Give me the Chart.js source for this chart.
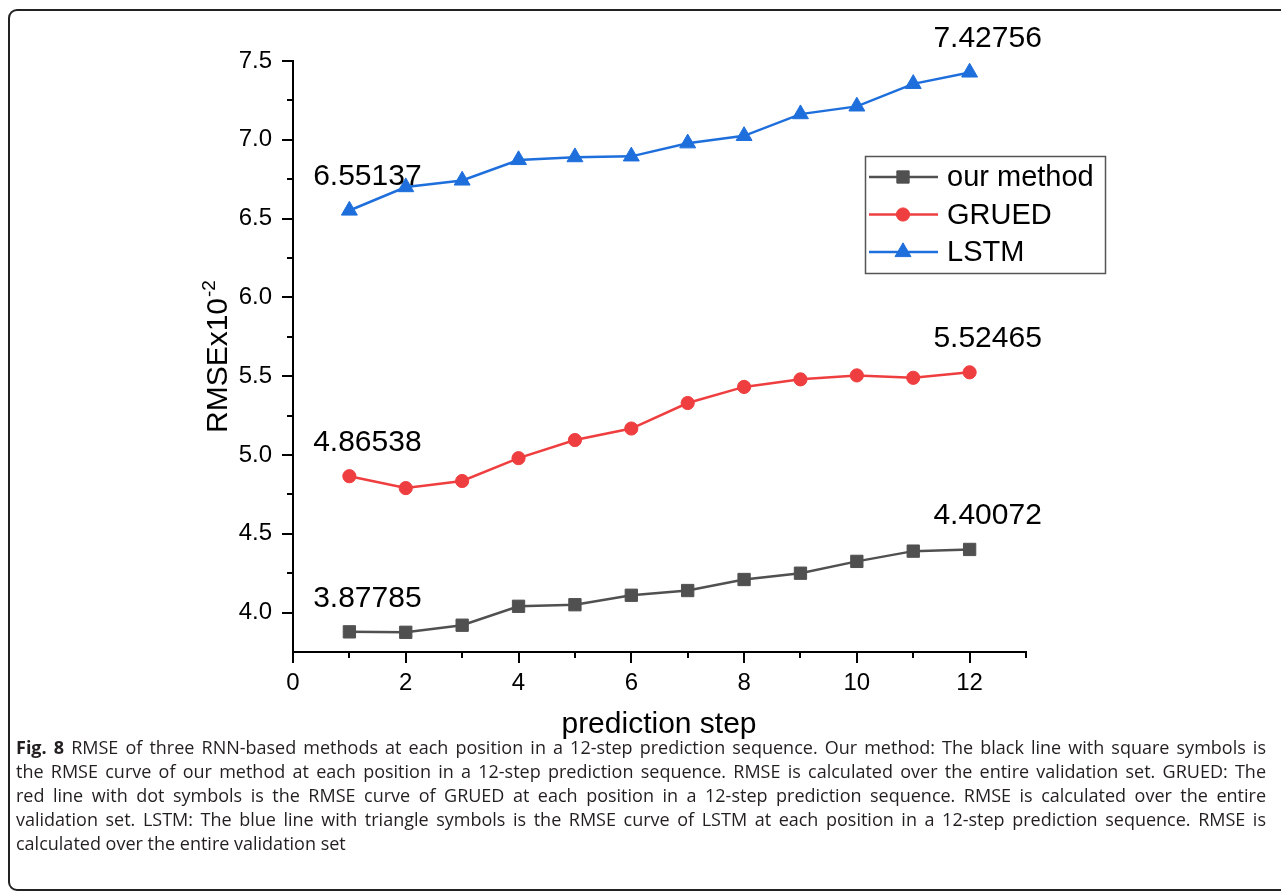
<!DOCTYPE html>
<html>
<head>
<meta charset="utf-8">
<script src="https://cdn.jsdelivr.net/npm/chart.js@4.4.1/dist/chart.umd.min.js"></script>
<style>
  html, body { margin: 0; padding: 0; background: #fff; }
  #wrap { position: relative; width: 1281px; height: 894px; overflow: hidden; }
  #frame { position: absolute; left: 8px; top: 9px; width: 1320px; height: 882px;
           border: 2px solid #222; border-radius: 9px; box-sizing: border-box; }
  #chart { position: absolute; left: 0; top: 0; }
  #caption { position: absolute; left: 16px; top: 735px; width: 1250px; transform-origin: 0 0;
             font-family: "Open Sans", sans-serif; font-size: 18px; line-height: 24px; color: #231f20; }
  .ln { white-space: nowrap; }
</style>
</head>
<body>
<div id="wrap">
  <div id="frame"></div>
  <canvas id="chart" width="1281" height="894"></canvas>
  <div id="caption">
    <div class="ln"><span><b>Fig. 8</b> RMSE of three RNN-based methods at each position in a 12-step prediction sequence. Our method: The black line with square symbols is</span></div>
    <div class="ln"><span>the RMSE curve of our method at each position in a 12-step prediction sequence. RMSE is calculated over the entire validation set. GRUED: The</span></div>
    <div class="ln"><span>red line with dot symbols is the RMSE curve of GRUED at each position in a 12-step prediction sequence. RMSE is calculated over the entire</span></div>
    <div class="ln"><span>validation set. LSTM: The blue line with triangle symbols is the RMSE curve of LSTM at each position in a 12-step prediction sequence. RMSE is</span></div>
    <div class="ln last"><span>calculated over the entire validation set</span></div>
  </div>
</div>
<script>
// prediction steps and RMSE (x10^-2) per method
const steps = [1, 2, 3, 4, 5, 6, 7, 8, 9, 10, 11, 12];
const ourMethod = [3.87785, 3.875, 3.92, 4.04, 4.05, 4.11, 4.14, 4.21, 4.25, 4.325, 4.39, 4.40072];
const grued = [4.86538, 4.79, 4.835, 4.98, 5.095, 5.168, 5.33, 5.432, 5.48, 5.505, 5.49, 5.52465];
const lstm = [6.55137, 6.70, 6.742, 6.872, 6.89, 6.895, 6.978, 7.025, 7.163, 7.212, 7.355, 7.42756];
const seriesNames = ['our method', 'GRUED', 'LSTM'];

const FONT = '"Liberation Sans", Arial, sans-serif';

const toPoints = vals => vals.map((v, i) => ({ x: steps[i], y: v }));

// tick marks (major + minor), axis titles, value labels and the boxed legend
const decor = {
  id: 'decor',
  afterDraw(chart) {
    const ctx = chart.ctx;
    const xs = chart.scales.x, ys = chart.scales.y;
    ctx.save();
    ctx.strokeStyle = '#000';
    ctx.lineWidth = 2;
    // y ticks every 0.25, labelled every 0.5
    for (let v = 4.0; v <= ys.max + 1e-9; v += 0.25) {
      const py = Math.round(ys.getPixelForValue(v));
      const major = Math.abs(v * 2 - Math.round(v * 2)) < 1e-6;
      ctx.beginPath();
      ctx.moveTo(xs.left, py);
      ctx.lineTo(xs.left - (major ? 11 : 6), py);
      ctx.stroke();
    }
    // x ticks every 1, labelled every 2
    for (let v = xs.min; v <= xs.max; v += 1) {
      const px = Math.round(xs.getPixelForValue(v));
      ctx.beginPath();
      ctx.moveTo(px, ys.bottom);
      ctx.lineTo(px, ys.bottom + (v % 2 === 0 ? 11 : 6));
      ctx.stroke();
    }

    // axis titles
    ctx.fillStyle = '#000';
    ctx.font = '30px ' + FONT;
    ctx.textAlign = 'center';
    ctx.textBaseline = 'alphabetic';
    ctx.fillText('prediction step', 659, 733);

    ctx.save();
    ctx.translate(227, 433);
    ctx.rotate(-Math.PI / 2);
    ctx.textAlign = 'left';
    ctx.font = '30px ' + FONT;
    ctx.fillText('RMSEx10', 0, 0);
    const w = ctx.measureText('RMSEx10').width;
    ctx.font = '19px ' + FONT;
    ctx.fillText('-2', w + 1, -12);
    ctx.restore();

    // first / last value labels
    ctx.font = '30px ' + FONT;
    ctx.textAlign = 'center';
    ctx.textBaseline = 'middle';
    chart.data.datasets.forEach((ds, di) => {
      const meta = chart.getDatasetMeta(di);
      [0, ds.data.length - 1].forEach(i => {
        const el = meta.data[i];
        ctx.fillText(ds.data[i].y.toFixed(5), el.x + 18, el.y - 33.5);
      });
    });

    // legend box
    const lx = 865, ly = 156, lw = 240, lh = 117;
    ctx.lineWidth = 1.5;
    ctx.strokeStyle = '#555';
    ctx.strokeRect(lx + 0.5, ly + 0.5, lw, lh);
    const rows = [177, 214.5, 252];
    chart.data.datasets.forEach((ds, di) => {
      const y = rows[di];
      ctx.strokeStyle = ds.borderColor;
      ctx.lineWidth = 2.5;
      ctx.beginPath();
      ctx.moveTo(869, y);
      ctx.lineTo(938, y);
      ctx.stroke();
      ctx.fillStyle = ds.borderColor;
      ctx.lineWidth = 1;
      Chart.helpers.drawPoint(ctx, {
        pointStyle: ds.pointStyle, radius: ds.pointRadius, borderWidth: 1
      }, 903, y);
      ctx.fillStyle = '#000';
      ctx.font = '29px ' + FONT;
      ctx.textAlign = 'left';
      ctx.textBaseline = 'middle';
      ctx.fillText(ds.label, 947, y + 1);
    });
    ctx.restore();
  }
};

const makeSet = (label, vals, color, style, radius) => ({
  label: label,
  data: toPoints(vals),
  borderColor: color,
  backgroundColor: color,
  borderWidth: 2.5,
  pointStyle: style,
  pointRadius: radius,
  pointBorderWidth: 1,
  pointBackgroundColor: color,
  pointBorderColor: color,
  tension: 0,
  clip: false
});

new Chart(document.getElementById('chart'), {
  type: 'line',
  data: {
    datasets: [
      makeSet(seriesNames[0], ourMethod, '#505050', 'rect', 8.7),
      makeSet(seriesNames[1], grued, '#EF3E3F', 'circle', 6.6),
      makeSet(seriesNames[2], lstm, '#1E6FDC', 'triangle', 9.2)
    ]
  },
  options: {
    responsive: false,
    animation: false,
    devicePixelRatio: 1,
    layout: { padding: { left: 0, top: 61, right: 255, bottom: 142 } },
    plugins: { legend: { display: false }, tooltip: { enabled: false } },
    scales: {
      x: {
        type: 'linear',
        min: 0, max: 13,
        afterFit(scale) { scale.height = 100; },
        grid: { display: false, drawTicks: false },
        border: { display: true, color: '#000', width: 2 },
        ticks: {
          stepSize: 2, includeBounds: false, autoSkip: false, maxRotation: 0,
          padding: 17, color: '#000', font: { family: FONT, size: 24 },
          callback: v => String(v)
        }
      },
      y: {
        type: 'linear',
        min: 3.75, max: 7.5,
        afterFit(scale) { scale.width = 293; },
        grid: { display: false, drawTicks: false },
        border: { display: true, color: '#000', width: 2 },
        ticks: {
          stepSize: 0.5, includeBounds: false, autoSkip: false,
          padding: 21, color: '#000', font: { family: FONT, size: 24 },
          callback: v => v.toFixed(1)
        }
      }
    }
  },
  plugins: [decor]
});

// caption: narrow the body font and justify every line but the last
function layoutCaption() {
  const cap = document.getElementById('caption');
  const target = 1250;
  const lines = Array.from(cap.querySelectorAll('.ln'));
  let maxW = 0;
  lines.forEach(l => { maxW = Math.max(maxW, l.firstElementChild.getBoundingClientRect().width); });
  const s = Math.min(1, target / maxW);
  const inner = target / s;
  cap.style.width = inner + 'px';
  cap.style.transform = 'scaleX(' + s + ')';
  lines.forEach(l => {
    if (l.classList.contains('last')) return;
    const span = l.firstElementChild;
    const w = span.getBoundingClientRect().width;
    const gaps = (span.textContent.match(/ /g) || []).length;
    if (gaps) span.style.wordSpacing = ((inner - w) / gaps) + 'px';
  });
}
layoutCaption();
</script>
</body>
</html>
